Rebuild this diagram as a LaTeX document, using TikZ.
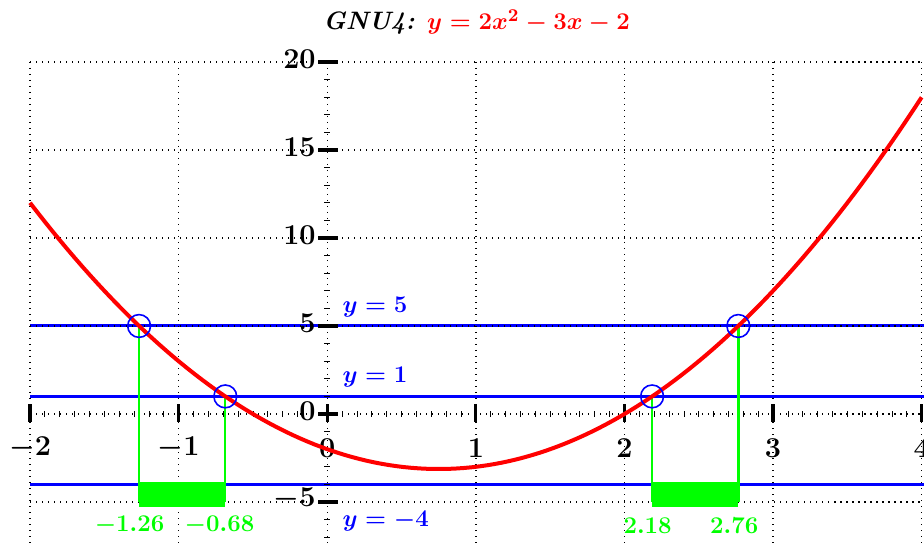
\documentclass[tikz,border=0pt]{standalone}
\definecolor{pgreen}{RGB}{0,255,0}
\definecolor{pblue}{RGB}{0,0,255}
\definecolor{pred}{RGB}{255,0,0}
\begin{document}
\begin{tikzpicture}[x=74.3pt,y=8.8pt,
  font=\fontsize{13}{15}\selectfont\bfseries\boldmath,
  gridline/.style={line width=0.7pt, dash pattern=on 0.7pt off 2.3pt},
  majortick/.style={line width=1.6pt},
  minortick/.style={line width=0.4pt},
  levelline/.style={pblue, line width=1.5pt},
  curveline/.style={pred, line width=2pt},
  hitcircle/.style={pblue, line width=0.8pt},
  dropline/.style={pgreen, line width=1.2pt},
  rootlabel/.style={text=pgreen, inner sep=0pt, font=\fontsize{13.2}{16}\selectfont\bfseries\boldmath},
  levellabel/.style={text=pblue, anchor=west, inner sep=0pt},
  axlabel/.style={inner sep=0pt, font=\fontsize{13.5}{16}\selectfont\bfseries\boldmath}]
\useasboundingbox (-2.202,-7.33) rectangle (4.0155,23.52);
\fill[white] (-2.202,-7.33) rectangle (4.0155,23.52);
% level lines
\foreach \yy in {5,1,-4} \draw[levelline] (-2,\yy) -- (4.0155,\yy);
% grid
\foreach \xx in {-2,...,4} \draw[gridline] (\xx,20) -- (\xx,-7.33);
\foreach \yy in {-5,0,...,20} \draw[gridline] (-2,\yy) -- (4.0155,\yy);
% minor ticks
\foreach \i in {-20,...,40} \draw[minortick] (\i/10,-0.15) -- (\i/10,0.15);
\foreach \j in {-7,...,20} \draw[minortick] (-0.02,\j) -- (0.02,\j);
% major ticks
\foreach \xx in {-2,...,4} \draw[majortick] (\xx,-0.45) -- (\xx,0.55);
\foreach \yy in {-5,0,...,20} \draw[majortick] (-0.062,\yy) -- (0.073,\yy);
% axis labels
\foreach \xx in {-2,...,4} \node[axlabel] (xlab\xx) at (\xx,-1.93) {$\xx$};
\foreach \yy in {-5,0,...,20} \node[axlabel, anchor=east] (ylab\yy) at (-0.075,\yy+0.15) {$\yy$};
% green drops
\fill[pgreen] (-1.266,-3.85) rectangle (-0.686,-5.3);
\fill[pgreen] (2.186,-3.85) rectangle (2.766,-5.3);
\draw[dropline] (-1.266,5) -- (-1.266,-5);
\draw[dropline] (-0.686,1) -- (-0.686,-5);
\draw[dropline] (2.186,1) -- (2.186,-5);
\draw[dropline] (2.766,5) -- (2.766,-5);
% curve
\draw[curveline] plot[domain=-2:4, samples=120] (\x,{2*\x*\x-3*\x-2});
% circles
\draw[hitcircle] (-1.266,5) circle[radius=5.7pt];
\draw[hitcircle] (-0.686,1) circle[radius=5.7pt];
\draw[hitcircle] (2.186,1) circle[radius=5.7pt];
\draw[hitcircle] (2.766,5) circle[radius=5.7pt];
% root labels
\node[rootlabel] (r1) at (-1.33,-6.35) {$-1.26$};
\node[rootlabel] (r2) at (-0.725,-6.35) {$-0.68$};
\node[rootlabel] (r3) at (2.156,-6.35) {$2.18$};
\node[rootlabel] (r4) at (2.739,-6.35) {$2.76$};
% level labels
\node[levellabel] (l5) at (0.1,6.05) {$y=5$};
\node[levellabel] (l1) at (0.1,2.07) {$y=1$};
\node[levellabel] (lm4) at (0.1,-6.07) {$y=-4$};
% title
\node[inner sep=0pt, font=\fontsize{12.6}{15}\selectfont\bfseries\boldmath] (title) at (1.005,22.27) {\textit{GNU4:} \textcolor{pred}{$y=2x^2-3x-2$}};
\end{tikzpicture}
\end{document}
